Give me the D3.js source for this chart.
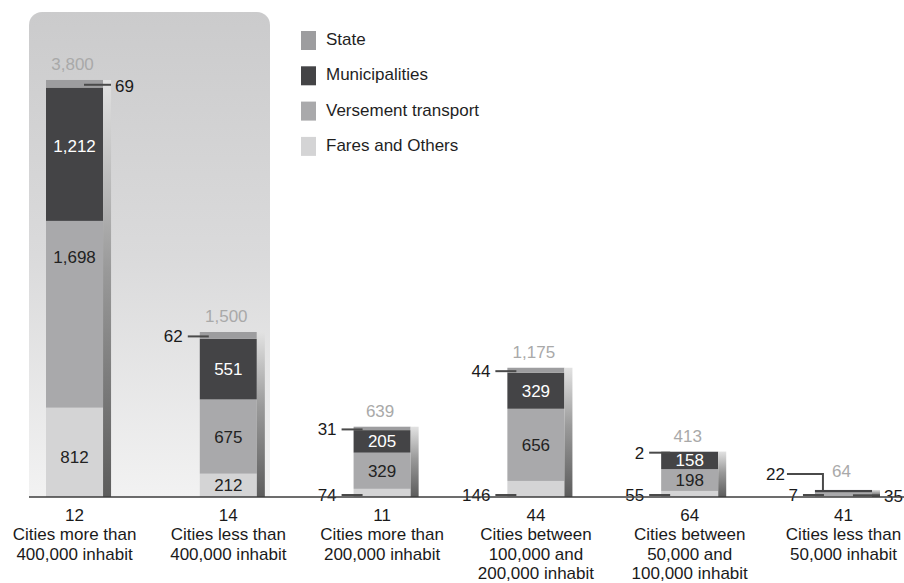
<!DOCTYPE html>
<html>
<head>
<meta charset="utf-8">
<script src="https://cdn.jsdelivr.net/npm/d3@7"></script>
<style>
  html, body { margin: 0; padding: 0; background: #fff; }
  svg { display: block; font-family: "Liberation Sans", Arial, Helvetica, sans-serif; }
</style>
</head>
<body>
<svg id="chart" width="904" height="583"></svg>
<script>
// Number of cities in each size class, and the class names (one entry per text line)
const cityCounts = [12, 14, 11, 44, 64, 41];
const categoryLines = [
  ["Cities more than", "400,000 inhabit"],
  ["Cities less than", "400,000 inhabit"],
  ["Cities more than", "200,000 inhabit"],
  ["Cities between", "100,000 and", "200,000 inhabit"],
  ["Cities between", "50,000 and", "100,000 inhabit"],
  ["Cities less than", "50,000 inhabit"]
];

// Funding sources (legend order, top of stack first)
const seriesNames = ["State", "Municipalities", "Versement transport", "Fares and Others"];
const stateValues = [69, 62, 31, 44, 2, 0];
const municipalValues = [1212, 551, 205, 329, 158, 22];
const versementValues = [1698, 675, 329, 656, 198, 35];
const faresValues = [812, 212, 74, 146, 55, 7];
const totalLabels = [3800, 1500, 639, 1175, 413, 64];
const yMax = 3800;

const seriesColors = ["#9d9d9f", "#444446", "#a9a9ab", "#d4d4d5"];

// ---- layout ----
const baseY = 497, topY = 79;
const svg = d3.select("#chart");
const fmt = d3.format(",");

const x = d3.scaleBand()
  .domain(d3.range(cityCounts.length))
  .range([46, 880])
  .paddingInner(0.577)
  .paddingOuter(0);
const stripW = 8;
const barW = x.bandwidth() - stripW;

const y = d3.scaleLinear().domain([0, yMax]).range([baseY, topY]);

const color = d3.scaleOrdinal().domain(seriesNames).range(seriesColors);

// stacked from the bottom: fares, versement, municipalities, state
const rows = cityCounts.map((c, i) => ({
  idx: i,
  "Fares and Others": faresValues[i],
  "Versement transport": versementValues[i],
  "Municipalities": municipalValues[i],
  "State": stateValues[i]
}));
const stackKeys = seriesNames.slice().reverse();
const stacked = d3.stack().keys(stackKeys)(rows);

// ---- gradients ----
const defs = svg.append("defs");
const pg = defs.append("linearGradient").attr("id", "panelGrad")
  .attr("x1", 0).attr("y1", 0).attr("x2", 0).attr("y2", 1);
pg.append("stop").attr("offset", "0%").attr("stop-color", "#cbcbcc");
pg.append("stop").attr("offset", "50%").attr("stop-color", "#dadadb");
pg.append("stop").attr("offset", "100%").attr("stop-color", "#f2f2f2");

const sg = defs.append("linearGradient").attr("id", "stripGrad")
  .attr("x1", 0).attr("y1", 0).attr("x2", 0).attr("y2", 1);
sg.append("stop").attr("offset", "0%").attr("stop-color", "#e2e2e2");
sg.append("stop").attr("offset", "45%").attr("stop-color", "#9a9a9a");
sg.append("stop").attr("offset", "100%").attr("stop-color", "#5c5c5c");

// ---- highlight panel behind the first class ----
{
  const px0 = x(0) - 17, px1 = x(0) + 224, pTop = 12, r = 13;
  const p = d3.path();
  p.moveTo(px0, baseY);
  p.lineTo(px0, pTop + r);
  p.arcTo(px0, pTop, px0 + r, pTop, r);
  p.lineTo(px1 - r, pTop);
  p.arcTo(px1, pTop, px1, pTop + r, r);
  p.lineTo(px1, baseY);
  p.closePath();
  svg.append("path").attr("d", p.toString()).attr("fill", "url(#panelGrad)");
}

// ---- bars ----
const barsG = svg.append("g");
barsG.selectAll("g.series")
  .data(stacked)
  .join("g")
  .attr("class", "series")
  .attr("fill", d => color(d.key))
  .selectAll("rect")
  .data(d => d)
  .join("rect")
  .attr("x", d => x(d.data.idx))
  .attr("width", barW)
  .attr("y", d => y(d[1]))
  .attr("height", d => Math.max(0, y(d[0]) - y(d[1])));

// shaded side strip on the right of every bar
barsG.selectAll("rect.strip")
  .data(rows)
  .join("rect")
  .attr("class", "strip")
  .attr("x", d => x(d.idx) + barW)
  .attr("width", stripW)
  .attr("y", d => y(d3.sum(stackKeys, k => d[k])))
  .attr("height", d => baseY - y(d3.sum(stackKeys, k => d[k])))
  .attr("fill", "url(#stripGrad)");

// ---- segment value labels ----
// segments too thin for an inner label get a leader line instead
const callouts = [
  { cat: 0, key: "State", side: "right" },
  { cat: 1, key: "State", side: "left" },
  { cat: 2, key: "State", side: "left" },
  { cat: 2, key: "Fares and Others", side: "left" },
  { cat: 3, key: "State", side: "left" },
  { cat: 3, key: "Fares and Others", side: "left" },
  { cat: 4, key: "State", side: "left" },
  { cat: 4, key: "Fares and Others", side: "left" },
  { cat: 5, key: "Municipalities", side: "elbow" },
  { cat: 5, key: "Fares and Others", side: "left" },
  { cat: 5, key: "Versement transport", side: "right" }
];
// vertical nudges for the tall first bar's inner labels
const labelShift = { "0|Municipalities": -8, "0|Versement transport": -57, "0|Fares and Others": 5 };

const isCallout = (cat, key) => callouts.some(c => c.cat === cat && c.key === key);

const inner = [];
stacked.forEach(s => {
  s.forEach(d => {
    const cat = d.data.idx;
    const v = d.data[s.key];
    if (v > 0 && !isCallout(cat, s.key)) {
      inner.push({ cat, key: s.key, v, cy: (y(d[0]) + y(d[1])) / 2 + (labelShift[cat + "|" + s.key] || 0) });
    }
  });
});

svg.append("g").selectAll("text")
  .data(inner)
  .join("text")
  .attr("x", d => x(d.cat) + barW / 2)
  .attr("y", d => d.cy)
  .attr("dy", "0.35em")
  .attr("text-anchor", "middle")
  .attr("font-size", 17)
  .attr("fill", d => d.key === "Municipalities" ? "#ffffff" : "#222222")
  .text(d => fmt(d.v));

// leader-line labels
const cg = svg.append("g");
callouts.forEach(c => {
  const s = stacked.find(t => t.key === c.key);
  const d = s[c.cat];
  const v = d.data[c.key];
  const bx = x(c.cat);
  const segTop = y(d[1]);
  const ly = c.key === "Fares and Others" ? baseY - 2 : (y(d[0]) + y(d[1])) / 2 + 1;
  const lineAttrs = sel => sel.attr("stroke", "#4a4a4a").attr("stroke-width", 2).attr("fill", "none");
  if (c.side === "left") {
    cg.append("line").attr("x1", bx - 12).attr("x2", bx + 9).attr("y1", ly).attr("y2", ly).call(lineAttrs);
    cg.append("text").attr("x", bx - 17).attr("y", ly).attr("dy", "0.35em")
      .attr("text-anchor", "end").attr("font-size", 17).attr("fill", "#1a1a1a").text(fmt(v));
  } else if (c.side === "right") {
    cg.append("line").attr("x1", bx + 38).attr("x2", bx + 65).attr("y1", ly).attr("y2", ly).call(lineAttrs);
    cg.append("text").attr("x", bx + 69).attr("y", ly + 1).attr("dy", "0.35em")
      .attr("text-anchor", "start").attr("font-size", 17).attr("fill", "#1a1a1a").text(fmt(v));
  } else {
    const ey = segTop - 16;
    cg.append("polyline")
      .attr("points", [[bx - 28, ey], [bx + 8, ey], [bx + 8, segTop]].map(p => p.join(",")).join(" "))
      .call(lineAttrs);
    cg.append("text").attr("x", bx - 30).attr("y", ey).attr("dy", "0.35em")
      .attr("text-anchor", "end").attr("font-size", 17).attr("fill", "#1a1a1a").text(fmt(v));
  }
});

// ---- totals above each bar ----
svg.append("g").selectAll("text")
  .data(rows)
  .join("text")
  .attr("x", d => x(d.idx) + barW / 2 - 2)
  .attr("y", d => y(d3.sum(stackKeys, k => d[k])) - (d.idx === 5 ? 13 : 10))
  .attr("text-anchor", "middle")
  .attr("font-size", 17)
  .attr("fill", "#a9a9a9")
  .text(d => fmt(totalLabels[d.idx]));

// ---- category axis ----
const axisG = svg.append("g")
  .attr("transform", `translate(0,${baseY})`)
  .call(d3.axisBottom(x).tickSize(0).tickFormat(i => cityCounts[i]));
axisG.select(".domain").remove();
axisG.selectAll(".tick text")
  .attr("dy", null)
  .attr("y", null)
  .attr("font-size", 17)
  .attr("fill", "#1a1a1a")
  .attr("font-family", "\"Liberation Sans\", Arial, Helvetica, sans-serif")
  .each(function (i) {
    const t = d3.select(this);
    t.text(null);
    const lines = [String(cityCounts[i])].concat(categoryLines[i]);
    lines.forEach((ln, k) => {
      t.append("tspan").attr("x", -4).attr("y", 24 + k * 19.3).text(ln);
    });
  });

svg.append("line")
  .attr("x1", x(0) - 17).attr("x2", 904)
  .attr("y1", baseY).attr("y2", baseY)
  .attr("stroke", "#3c3c3c").attr("stroke-width", 1.5);

// ---- legend ----
const lg = svg.append("g").selectAll("g")
  .data(seriesNames)
  .join("g")
  .attr("transform", (d, i) => `translate(301,${45 + i * 35.3})`);
lg.append("rect").attr("x", 0).attr("y", -14).attr("width", 15).attr("height", 19)
  .attr("fill", d => color(d));
lg.append("text").attr("x", 25).attr("y", 0).attr("font-size", 17).attr("fill", "#1f1f1f")
  .text(d => d);
</script>
</body>
</html>
